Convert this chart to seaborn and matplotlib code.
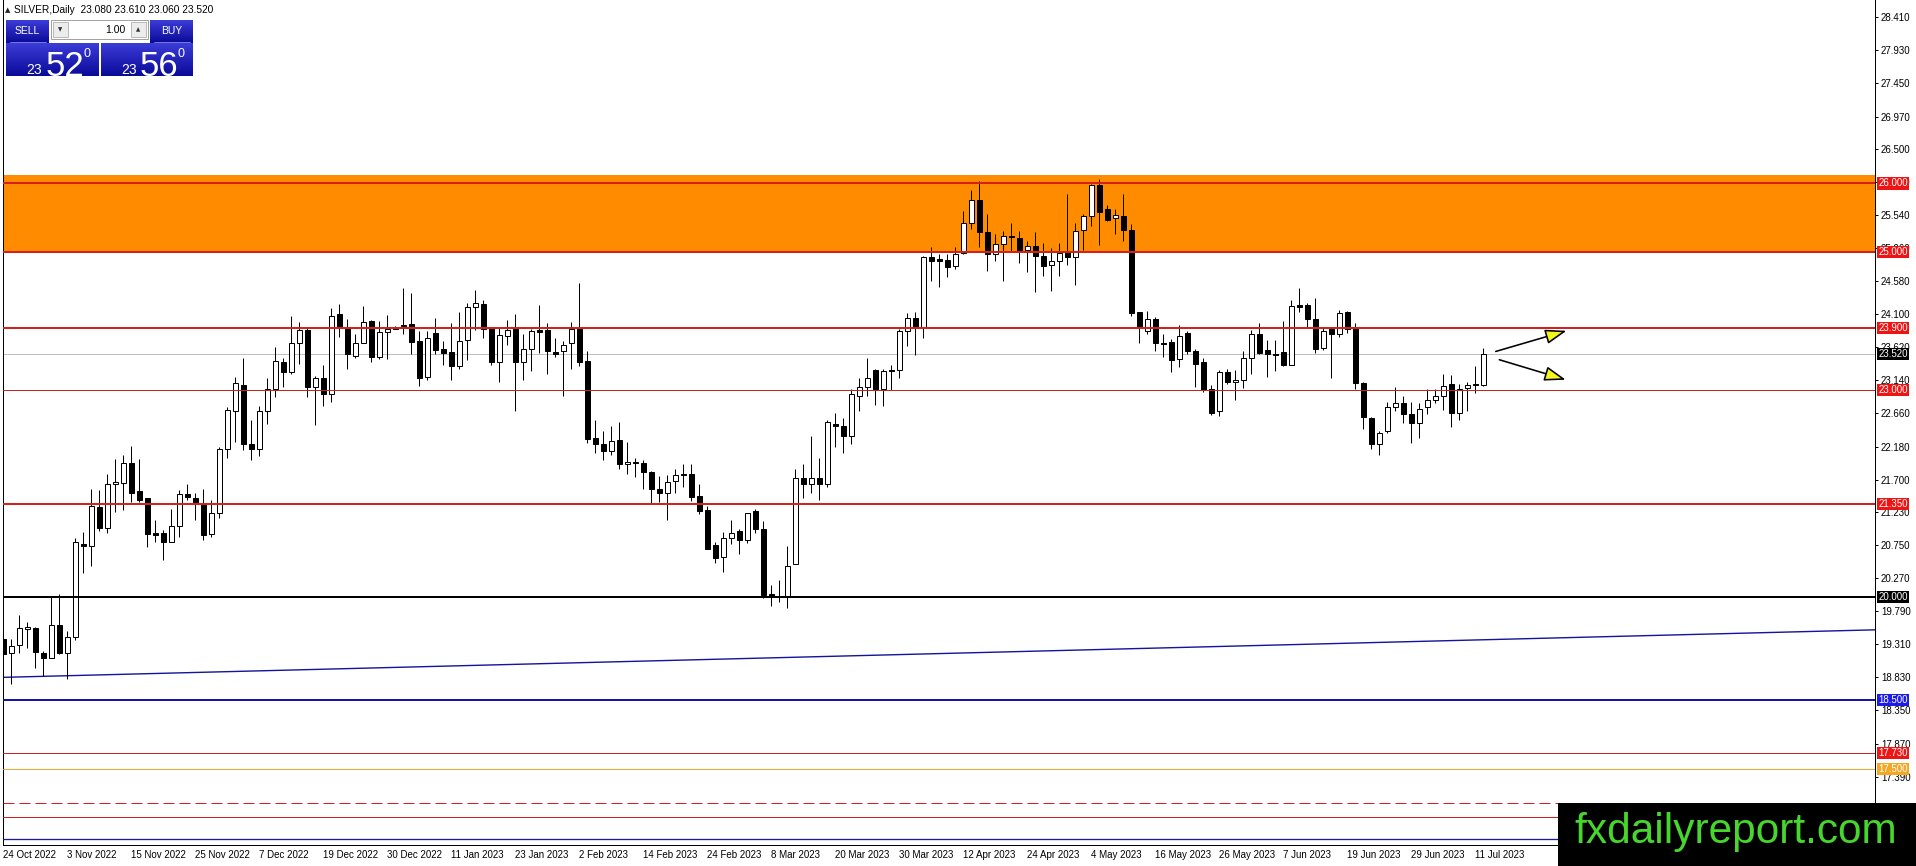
import numpy as np
import pandas as pd
import matplotlib
matplotlib.use('Agg')
import matplotlib.pyplot as plt
from matplotlib.patches import Rectangle
from matplotlib.colors import LinearSegmentedColormap
from matplotlib.transforms import blended_transform_factory
import seaborn as sns

sns.set_style('white')
plt.rcParams['font.family'] = ['Liberation Sans', 'DejaVu Sans']

# Daily OHLC, SILVER, 24 Oct 2022 .. 12 Jul 2023
opens = [19.38, 19.18, 19.30, 19.53, 19.54, 19.18, 19.11, 19.59, 19.18, 19.41,
         20.76, 20.74, 21.30, 21.00, 21.63, 21.65, 21.94, 21.53, 21.43, 20.92,
         20.92, 20.80, 21.03, 21.49, 21.44, 21.35, 20.91, 21.21, 22.15, 22.69,
         23.07, 22.22, 22.15, 22.69, 23.01, 23.40, 23.26, 23.68, 23.87, 23.04,
         23.18, 22.94, 24.10, 23.89, 23.50, 23.69, 24.00, 23.48, 23.84, 23.89,
         23.93, 23.96, 23.71, 23.19, 23.83, 23.60, 23.55, 23.35, 23.72, 24.21,
         24.25, 23.88, 23.41, 23.79, 23.89, 23.40, 23.60, 23.87, 23.87, 23.55,
         23.56, 23.68, 23.89, 23.42, 22.31, 22.22, 22.11, 22.27, 21.92, 21.96,
         21.94, 21.81, 21.57, 21.51, 21.68, 21.78, 21.78, 21.46, 21.26, 20.75,
         20.57, 20.85, 20.95, 20.83, 21.25, 20.99, 20.04, 20.01, 20.01, 20.48,
         21.73, 21.63, 21.72, 21.63, 22.50, 22.48, 22.34, 22.92, 23.04, 23.29,
         23.02, 23.29, 23.29, 23.85, 24.05, 23.91, 24.93, 24.90, 24.89, 24.80,
         24.99, 25.43, 25.76, 25.30, 24.98, 25.12, 25.24, 25.21, 25.03, 25.09,
         24.95, 24.82, 24.87, 25.01, 24.93, 25.32, 25.52, 25.98, 25.63, 25.50,
         25.53, 25.32, 24.13, 23.86, 24.03, 23.69, 23.70, 23.45, 23.83, 23.57,
         23.41, 23.01, 22.69, 23.26, 23.11, 23.15, 23.46, 23.82, 23.58, 23.53,
         23.55, 23.37, 24.23, 24.23, 24.03, 23.61, 23.88, 23.82, 24.14, 23.90,
         23.10, 22.60, 22.22, 22.41, 22.75, 22.81, 22.65, 22.52, 22.75, 22.86,
         22.91, 23.09, 22.67, 23.03, 23.09, 23.08]
highs = [19.61, 19.38, 19.73, 19.64, 19.56, 19.21, 19.99, 20.04, 19.51, 20.85,
         20.94, 21.57, 21.55, 21.78, 22.00, 22.06, 22.19, 22.00, 21.44, 21.11,
         20.97, 21.28, 21.55, 21.64, 21.50, 21.56, 21.40, 22.18, 22.76, 23.19,
         23.46, 22.56, 22.77, 23.17, 23.63, 23.46, 24.07, 23.99, 23.90, 23.20,
         23.36, 24.19, 24.25, 24.03, 23.82, 24.22, 24.02, 24.00, 24.09, 23.93,
         24.48, 24.41, 23.86, 23.86, 24.04, 23.71, 23.98, 24.13, 24.26, 24.45,
         24.31, 23.90, 23.90, 24.02, 24.11, 23.81, 23.88, 24.24, 23.97, 23.75,
         23.71, 23.99, 24.56, 23.56, 22.56, 22.40, 22.48, 22.54, 22.24, 22.02,
         21.98, 21.83, 21.75, 21.77, 21.86, 21.93, 21.93, 21.64, 21.32, 20.80,
         20.94, 21.12, 20.99, 21.22, 21.27, 21.10, 20.17, 20.24, 20.74, 21.86,
         21.93, 22.33, 22.02, 22.56, 22.66, 22.60, 23.01, 23.17, 23.46, 23.30,
         23.31, 23.36, 23.88, 24.12, 24.13, 24.94, 25.08, 24.98, 24.98, 25.08,
         25.60, 25.90, 26.03, 25.55, 25.26, 25.31, 25.43, 25.31, 25.17, 25.30,
         25.14, 25.06, 25.14, 25.85, 25.43, 25.55, 25.99, 26.06, 25.68, 25.63,
         25.85, 25.41, 24.13, 24.15, 24.06, 23.82, 23.74, 23.95, 23.86, 23.60,
         23.47, 23.07, 23.29, 23.31, 23.29, 23.57, 23.87, 23.98, 23.73, 23.73,
         24.00, 24.31, 24.48, 24.26, 24.33, 23.91, 23.92, 24.16, 24.15, 23.98,
         23.12, 22.61, 22.40, 22.83, 23.05, 22.91, 22.82, 22.81, 23.01, 23.01,
         23.24, 23.22, 23.09, 23.12, 23.35, 23.61]
lows = [18.98, 18.73, 19.18, 19.25, 18.96, 18.85, 19.11, 19.17, 18.80, 19.37,
        20.34, 20.45, 20.96, 20.92, 21.23, 21.26, 21.37, 21.37, 20.72, 20.80,
        20.54, 20.79, 20.87, 21.40, 21.12, 20.82, 20.86, 21.15, 22.01, 22.24,
        22.13, 21.99, 22.04, 22.50, 22.90, 23.05, 23.23, 23.38, 22.90, 22.49,
        22.77, 22.83, 23.77, 23.30, 23.46, 23.69, 23.41, 23.45, 23.45, 23.88,
        23.82, 23.53, 23.06, 23.14, 23.52, 23.36, 23.15, 23.30, 23.44, 23.87,
        23.76, 23.36, 23.11, 23.65, 22.70, 23.15, 23.27, 23.54, 23.23, 23.48,
        22.91, 23.30, 23.35, 22.23, 22.08, 21.98, 22.06, 21.85, 21.78, 21.74,
        21.56, 21.36, 21.38, 21.12, 21.50, 21.59, 21.39, 21.20, 20.69, 20.49,
        20.36, 20.77, 20.62, 20.78, 20.93, 19.98, 19.86, 19.93, 19.84, 20.48,
        21.44, 21.50, 21.40, 21.60, 22.18, 22.09, 22.21, 22.70, 22.92, 22.78,
        22.77, 23.00, 23.18, 23.64, 23.51, 23.76, 24.58, 24.50, 24.64, 24.76,
        24.97, 25.34, 25.08, 24.73, 24.87, 24.58, 25.00, 24.84, 24.72, 24.43,
        24.65, 24.44, 24.66, 24.82, 24.52, 25.03, 25.38, 25.10, 25.45, 25.27,
        25.17, 24.08, 23.69, 23.82, 23.57, 23.48, 23.26, 23.33, 23.53, 23.04,
        22.97, 22.64, 22.63, 23.09, 22.86, 23.03, 23.23, 23.53, 23.19, 23.28,
        23.35, 23.37, 24.14, 23.90, 23.54, 23.58, 23.17, 23.77, 23.83, 23.01,
        22.44, 22.14, 22.06, 22.37, 22.69, 22.52, 22.23, 22.30, 22.65, 22.81,
        22.71, 22.47, 22.56, 22.70, 22.96, 23.06]
closes = [19.17, 19.29, 19.54, 19.56, 19.20, 19.11, 19.59, 19.19, 19.42, 20.80,
          20.74, 21.31, 21.00, 21.64, 21.66, 21.94, 21.51, 21.40, 20.91, 20.90,
          20.80, 21.03, 21.49, 21.45, 21.37, 20.89, 21.21, 22.15, 22.71, 23.10,
          22.21, 22.14, 22.69, 23.01, 23.42, 23.26, 23.68, 23.87, 23.04, 23.17,
          22.94, 24.08, 23.92, 23.52, 23.68, 23.99, 23.48, 23.84, 23.88, 23.91,
          23.94, 23.70, 23.18, 23.75, 23.58, 23.54, 23.35, 23.71, 24.20, 24.26,
          23.88, 23.41, 23.80, 23.87, 23.41, 23.60, 23.86, 23.84, 23.56, 23.53,
          23.66, 23.89, 23.41, 22.29, 22.21, 22.11, 22.26, 21.92, 21.96, 21.94,
          21.81, 21.56, 21.51, 21.67, 21.76, 21.76, 21.45, 21.25, 20.69, 20.56,
          20.85, 20.93, 20.83, 21.21, 20.99, 20.03, 20.00, 20.01, 20.45, 21.73,
          21.63, 21.72, 21.63, 22.54, 22.48, 22.34, 22.94, 23.04, 23.17, 23.01,
          23.28, 23.27, 23.86, 24.05, 23.91, 24.93, 24.87, 24.88, 24.79, 24.98,
          25.43, 25.76, 25.29, 24.98, 25.12, 25.23, 25.22, 25.01, 25.09, 24.94,
          24.80, 24.88, 24.99, 24.93, 25.31, 25.52, 25.98, 25.59, 25.47, 25.54,
          25.32, 24.12, 23.91, 24.03, 23.69, 23.67, 23.44, 23.79, 23.56, 23.38,
          23.00, 22.67, 23.26, 23.11, 23.15, 23.46, 23.82, 23.54, 23.52, 23.51,
          23.36, 24.22, 24.21, 24.03, 23.60, 23.86, 23.81, 24.12, 23.88, 23.10,
          22.61, 22.22, 22.37, 22.75, 22.81, 22.65, 22.52, 22.72, 22.85, 22.91,
          23.06, 22.67, 23.02, 23.08, 23.07, 23.52]

date_labels = ['24 Oct 2022', '3 Nov 2022', '15 Nov 2022', '25 Nov 2022', '7 Dec 2022',
               '19 Dec 2022', '30 Dec 2022', '11 Jan 2023', '23 Jan 2023', '2 Feb 2023',
               '14 Feb 2023', '24 Feb 2023', '8 Mar 2023', '20 Mar 2023', '30 Mar 2023',
               '12 Apr 2023', '24 Apr 2023', '4 May 2023', '16 May 2023', '26 May 2023',
               '7 Jun 2023', '19 Jun 2023', '29 Jun 2023', '11 Jul 2023']
label_step = 8  # one date label every 8 bars

price_ticks = [28.410, 27.930, 27.450, 26.970, 26.500, 26.020, 25.540, 25.060, 24.580,
               24.100, 23.620, 23.140, 22.660, 22.180, 21.700, 21.230, 20.750, 20.270,
               19.790, 19.310, 18.830, 18.350, 17.870, 17.390, 16.910, 16.430]

# drawn objects
zone = [25.0, 26.126]
levels = [26.0, 25.0, 23.9, 23.0, 21.35, 20.0, 18.5, 17.73, 17.5, 17.0, 16.8, 16.49]
level_colors = ['#d62020', '#d62020', '#d62020', '#c82222', '#d62020', 'black',
                '#1414a8', '#d02020', '#f0a830', '#d02020', '#d02020', '#1a1a9a']
level_widths = [2, 2, 2, 1, 2, 2, 2, 1, 1, 1, 1, 1.3]
tagged = [26.0, 25.0, 23.9, 23.0, 21.35, 20.0, 18.5, 17.73, 17.5]
tag_colors = ['#ee1414', '#ee1414', '#ee1414', '#ee1414', '#ee1414', 'black',
              '#1c1ce6', '#ee1414', '#f5a623']
trend_bars = [-0.1, 234]
trend_prices = [18.83, 19.52]
arrow_up = [(186.55, 23.56), (195.4, 23.86)]
arrow_down = [(187.0, 23.44), (195.3, 23.15)]
bid, ask = 23.520, 23.560

df = pd.DataFrame({'open': opens, 'high': highs, 'low': lows, 'close': closes})
df['bar'] = np.arange(len(df))

W, H = 1916, 866
px = 0.72  # points per pixel at 100 dpi
fig = plt.figure(figsize=(W / 100, H / 100), dpi=100)
ax = fig.add_axes([2.7 / W, (H - 845) / H, (1875 - 2.7) / W, 845 / H])

ax.axhspan(zone[0], zone[1], color='#ff8c00', lw=0, zorder=0.5)
ax.axhline(df['close'].iloc[-1], color='#c0c0c0', lw=1 * px, zorder=1)
sns.lineplot(x=trend_bars, y=trend_prices, ax=ax, color='#14149c', lw=1.4 * px,
             estimator=None, zorder=1.5)

# candles
ax.vlines(df['bar'], df['low'], df['high'], color='black', lw=1 * px, zorder=2)
up = df['close'] >= df['open']
body = np.maximum((df['close'] - df['open']).abs(), 0.004)
ax.bar(df['bar'], body, bottom=np.minimum(df['open'], df['close']), width=0.56,
       color=np.where(up, 'white', 'black'), edgecolor='black', lw=1 * px, zorder=3)

for lv, c, w in zip(levels, level_colors, level_widths):
    ls = (0, (11, 5)) if lv == 17.0 else '-'
    ax.axhline(lv, color=c, lw=w * px, ls=ls, zorder=4)

for start, end in (arrow_up, arrow_down):
    ax.annotate('', xy=end, xytext=start,
                arrowprops=dict(arrowstyle='-|>,head_length=13,head_width=4.5',
                                mutation_scale=1, fc='#f5f51e', ec='black',
                                lw=1.6 * px, shrinkA=0, shrinkB=0), zorder=5)

ax.set_xlim(-0.075, 233.96)
ax.set_ylim(16.397, 28.661)

ax.yaxis.tick_right()
ax.set_yticks(price_ticks)
ax.set_yticklabels([f'{v:.3f}' for v in price_ticks])
ax.tick_params(axis='y', direction='out', length=3 * px, width=1 * px, pad=3 * px,
               labelsize=7, colors='black')
xt = np.arange(len(date_labels)) * label_step
ax.set_xticks(xt)
ax.set_xticklabels(date_labels, ha='left')
ax.tick_params(axis='x', direction='out', length=3 * px, width=1 * px, pad=2 * px,
               labelsize=7, colors='black')
for side in ['left', 'right', 'bottom']:
    ax.spines[side].set_color('black')
    ax.spines[side].set_linewidth(1 * px)
ax.spines['top'].set_visible(False)
ax.grid(False)

# price tags on the right scale
tr = blended_transform_factory(ax.transAxes, ax.transData)
tags = tagged + [df['close'].iloc[-1]]
colors = tag_colors + ['black']
for lv, c in zip(tags, colors):
    ax.text(1.0017, lv, f'{lv:.3f}', transform=tr, fontsize=7, color='white',
            ha='left', va='center', clip_on=False, zorder=6,
            bbox=dict(boxstyle='square,pad=0.12', fc=c, ec='none'))

# one-click trading panel (pixel coordinates)
wax = fig.add_axes([0, 1 - 80 / H, 200 / W, 80 / H], zorder=5)
wax.axis('off')
blues = LinearSegmentedColormap.from_list('mt', ['#3c3cd8', '#0a0a98'])
grad = np.linspace(0, 1, 50).reshape(-1, 1)


def blue_box(x0, y0, x1, y1):
    wax.imshow(grad, extent=(x0, x1, y1, y0), cmap=blues, aspect='auto', zorder=1)


blue_box(6, 20, 49, 43)
blue_box(150, 20, 193, 43)
blue_box(6, 43, 99, 76)
blue_box(101, 43, 193, 76)
wax.add_patch(Rectangle((51, 20), 97, 19, fc='white', ec='#a0a0a0', lw=0.7, zorder=2))
wax.add_patch(Rectangle((53, 22), 15, 15, fc='#ececec', ec='#b0b0b0', lw=0.6, zorder=3))
wax.add_patch(Rectangle((131, 22), 15, 15, fc='#ececec', ec='#b0b0b0', lw=0.6, zorder=3))
wax.plot([10, 46], [41.5, 41.5], color='#8a8ae8', lw=0.6, zorder=3)
wax.plot([154, 190], [41.5, 41.5], color='#8a8ae8', lw=0.6, zorder=3)
wax.set_xlim(0, 200)
wax.set_ylim(80, 0)

o, h, l, c = df.iloc[-1][['open', 'high', 'low', 'close']]
wax.text(8, 10, '\u25b2', fontsize=5, va='center', ha='center', color='#202020',
         family=['DejaVu Sans'])
wax.text(14, 10, f'SILVER,Daily  {o:.3f} {h:.3f} {l:.3f} {c:.3f}', fontsize=7.3,
         va='center', ha='left', color='black')
wax.text(27.5, 31, 'SELL', fontsize=7.5, color='white', ha='center', va='center')
wax.text(171.5, 31, 'BUY', fontsize=7.5, color='white', ha='center', va='center')
wax.text(125, 30, '1.00', fontsize=7.5, color='black', ha='right', va='center')
wax.text(60.5, 29.5, '\u25bc', fontsize=4, color='#303030', ha='center', va='center',
         family=['DejaVu Sans'])
wax.text(138.5, 29.5, '\u25b2', fontsize=4, color='#303030', ha='center', va='center',
         family=['DejaVu Sans'])
for price, xs in ((bid, (42, 46, 84)), (ask, (137, 140, 178))):
    s = f'{price:.3f}'
    wax.text(xs[0], 74, s[:2], fontsize=10, color='white', ha='right', va='baseline')
    wax.text(xs[1], 75.5, s[3:5], fontsize=25, color='white', ha='left', va='baseline')
    wax.text(xs[2], 48, s[5], fontsize=9, color='white', ha='left', va='top')

# watermark
fig.add_artist(Rectangle((1558 / W, 0), (W - 1558) / W, 63 / H, transform=fig.transFigure,
                         fc='black', ec='none', zorder=10))
fig.text(1736 / W, (H - 843) / H, 'fxdailyreport.com', color='#47d62c', fontsize=30.5,
         ha='center', va='baseline', zorder=11)

fig.savefig('out.png', dpi=100)
